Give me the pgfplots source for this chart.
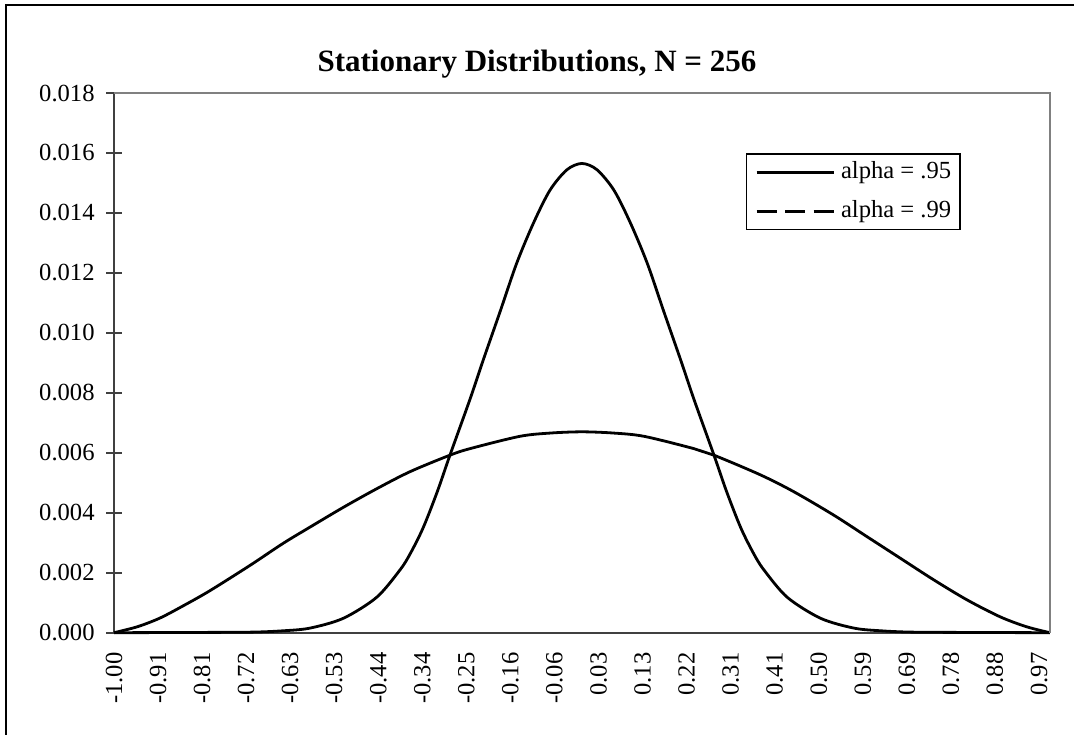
\documentclass[border=0pt]{standalone}
\usepackage{fontspec}
\setmainfont{Liberation Serif}
\usepackage{pgfplots}
\pgfplotsset{compat=1.18}
\begin{document}
\begin{tikzpicture}
\useasboundingbox (0pt,0pt) rectangle (537pt,367pt);
\draw[black, line width=0.9pt] (3pt,-5pt) -- (3pt,364.5pt) -- (545pt,364.5pt);
\node[font=\fontsize{15.5}{18}\selectfont\bfseries, anchor=base, inner sep=0pt] at (268.5pt,331pt) {Stationary Distributions, N = 256};
\begin{axis}[
  at={(57pt,50.65pt)}, anchor=south west,
  scale only axis, width=468pt, height=269.85pt,
  xmin=-1, xmax=0.9921875, ymin=0, ymax=0.018,
  axis lines*=left,
  axis line style={black!75, line width=0.9pt},
  clip=false,
  tick align=center,
  major tick length=7.8pt,
  xtick={-1,-0.90625,-0.8125,-0.71875,-0.625,-0.53125,-0.4375,-0.34375,-0.25,-0.15625,-0.0625,0.03125,0.125,0.21875,0.3125,0.40625,0.5,0.59375,0.6875,0.78125,0.875,0.96875},
  xticklabels={-1.00,-0.91,-0.81,-0.72,-0.63,-0.53,-0.44,-0.34,-0.25,-0.16,-0.06,0.03,0.13,0.22,0.31,0.41,0.50,0.59,0.69,0.78,0.88,0.97},
  xtick style={draw=none},
  xticklabel style={rotate=90, anchor=east, inner sep=0pt, font=\fontsize{12.3}{14}\selectfont, xshift=-5.75pt},
  ytick={0,0.002,0.004,0.006,0.008,0.010,0.012,0.014,0.016,0.018},
  scaled y ticks=false,
  ytick style={black!75, line width=0.9pt},
  yticklabel style={/pgf/number format/.cd, fixed, fixed zerofill, precision=3, assume math mode=true, /tikz/.cd,
    anchor=east, inner sep=0pt, font=\fontsize{12.3}{14}\selectfont, xshift=-5.6pt},
  legend style={at={(0.675,0.888)}, anchor=north west, draw=black, line width=0.6pt,
    font=\fontsize{12.3}{14}\selectfont, inner xsep=4.4pt, inner ysep=3.5pt, row sep=8.5pt, column sep=3pt,
    nodes={inner sep=0pt, text height=8.5pt, text depth=2.7pt}},
  legend cell align=left,
  legend image code/.code={\draw[#1] (0pt,0pt) -- (38.5pt,0pt);},
]
\addplot[black, line width=1.4pt, smooth, tension=0.5] coordinates {
(-1.000,0) (-0.804,0.00001) (-0.704,0.00002) (-0.644,0.00006) (-0.584,0.00015)
(-0.512,0.00048) (-0.441,0.00118) (-0.391,0.00210) (-0.369,0.00265) (-0.342,0.00350)
(-0.312,0.00470) (-0.285,0.00592) (-0.242,0.00780) (-0.214,0.00910) (-0.178,0.01072)
(-0.143,0.01232) (-0.107,0.01367) (-0.072,0.01476) (-0.036,0.01544) (-0.004,0.01565)
(0.028,0.01544) (0.064,0.01476) (0.099,0.01367) (0.135,0.01232) (0.170,0.01072)
(0.206,0.00910) (0.234,0.00780) (0.277,0.00592) (0.304,0.00470) (0.334,0.00350)
(0.361,0.00265) (0.383,0.00210) (0.433,0.00118) (0.504,0.00048) (0.576,0.00015)
(0.636,0.00006) (0.696,0.00002) (0.796,0.00001) (0.992,0)
};
\addlegendentry{alpha = .95}
\addplot[black, line width=1.4pt, smooth, tension=0.5, legend image post style={dash pattern=on 10pt off 4.25pt}] coordinates {
(-1.000,0) (-0.950,0.00020) (-0.902,0.00049) (-0.850,0.00092) (-0.796,0.00140)
(-0.711,0.00224) (-0.640,0.00298) (-0.583,0.00352) (-0.512,0.00418) (-0.441,0.00480)
(-0.370,0.00537) (-0.285,0.00592) (-0.242,0.00614) (-0.136,0.00655) (-0.070,0.00666)
(-0.004,0.00670) (0.062,0.00666) (0.128,0.00655) (0.234,0.00614) (0.277,0.00592)
(0.375,0.00527) (0.446,0.00471) (0.531,0.00393) (0.602,0.00321) (0.673,0.00249)
(0.744,0.00177) (0.815,0.00110) (0.886,0.00053) (0.942,0.00020) (0.992,0)
};
\addlegendentry{alpha = .99}
\draw[black!50, line width=0.9pt] (rel axis cs:0,1) -- (rel axis cs:1,1) -- (rel axis cs:1,0);
\end{axis}
\end{tikzpicture}
\end{document}
